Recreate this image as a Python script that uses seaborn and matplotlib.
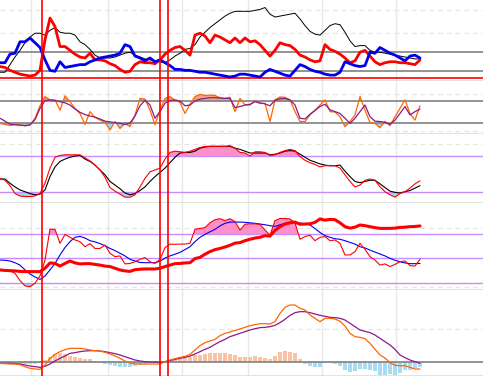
import numpy as np
import matplotlib
matplotlib.use("Agg")
import matplotlib.pyplot as plt
import seaborn as sns

sns.set_style("white")

# one sample every 5 px of the original chart
days = np.arange(85)

# panel 1: directional movement (ADX, +DI, -DI)
adx = [19, 19, 27, 35, 42, 50, 56, 60, 60, 58, 63, 66, 61, 60, 60, 58, 51, 48, 43, 37,
       34, 34, 34, 35, 37, 39, 40, 37, 35, 33, 32, 31, 30, 29, 32, 36, 39, 43, 44, 48,
       56, 61, 66, 70, 74, 78, 81, 83, 83, 83, 83, 84, 85, 87, 80, 77, 78, 79, 80, 81,
       75, 68, 62, 59, 58, 63, 68, 70, 69, 61, 52, 46, 47, 47, 42, 40, 40, 39, 38, 37,
       36, 35, 34, 33, 33]
plus_di = [29, 29, 38, 39, 51, 51, 55, 50, 45, 32, 21, 20, 30, 24, 25, 26, 27, 27, 30, 32,
           34, 35, 36, 37, 39, 48, 46, 36, 34, 31, 34, 30, 32, 29, 26, 22, 22, 21, 21, 20,
           19, 19, 18, 17, 16, 15, 14, 15, 17, 17, 16, 15, 14, 19, 22, 20, 18, 16, 15, 21,
           27, 25, 22, 20, 19, 17, 16, 16, 19, 30, 28, 26, 25, 26, 40, 39, 45, 42, 39, 37,
           34, 31, 36, 37, 34]
minus_di = [25, 24, 21, 19, 17, 16, 15, 16, 21, 53, 76, 67, 46, 46, 42, 38, 35, 34, 39, 32,
            32, 31, 28, 26, 22, 19, 20, 27, 30, 29, 29, 28, 32, 38, 42, 45, 46, 42, 37, 58,
            60, 57, 50, 58, 56, 53, 50, 55, 50, 55, 51, 52, 48, 42, 36, 42, 50, 48, 47, 43,
            37, 35, 32, 30, 31, 48, 43, 41, 38, 34, 29, 31, 40, 42, 36, 30, 27, 29, 30, 30,
            29, 29, 28, 27, 32]

# panel 2: fast / slow oscillator (0-100)
osc_fast = [20, 17, 14, 17, 16, 13, 15, 34, 68, 93, 84, 84, 56, 95, 79, 61, 47, 17, 52, 36,
            29, 23, 2, 25, 6, 20, 11, 43, 88, 86, 56, 16, 56, 88, 93, 83, 77, 47, 72, 93,
            99, 96, 97, 96, 90, 88, 91, 52, 88, 70, 70, 81, 74, 75, 25, 84, 92, 91, 84, 52,
            25, 25, 43, 56, 70, 84, 52, 51, 38, 11, 25, 43, 93, 56, 22, 20, 8, 25, 14, 38,
            61, 84, 47, 29, 68]
osc_slow = [34, 26, 18, 16, 15, 14, 16, 30, 61, 82, 84, 82, 79, 76, 70, 59, 50, 44, 40, 37,
            32, 26, 24, 22, 20, 17, 21, 40, 68, 83, 70, 34, 52, 75, 82, 84, 81, 68, 70, 81,
            86, 88, 90, 90, 89, 88, 88, 63, 66, 70, 72, 79, 76, 73, 68, 83, 87, 88, 84, 70,
            34, 32, 45, 55, 66, 72, 57, 52, 47, 34, 20, 34, 52, 70, 38, 26, 25, 23, 17, 29,
            47, 66, 43, 52, 59]

# panel 3: stochastic %K / %D
stoch_k = [43, 40, 31, 18, 14, 13, 13, 14, 18, 35, 60, 78, 81, 82, 82, 82, 82, 77, 72, 65,
           57, 45, 28, 22, 17, 12, 12, 16, 29, 43, 54, 57, 60, 75, 86, 88, 87, 86, 88, 91,
           94, 96, 96, 96, 96, 96, 97, 93, 86, 85, 80, 87, 87, 86, 81, 82, 86, 89, 91, 89,
           79, 73, 69, 66, 62, 64, 64, 64, 60, 49, 38, 29, 32, 40, 42, 40, 29, 21, 16, 12,
           18, 21, 27, 34, 39]
stoch_d = [42, 42, 35, 29, 24, 21, 18, 16, 17, 24, 46, 62, 71, 75, 78, 80, 81, 75, 71, 65,
           57, 49, 38, 32, 26, 19, 16, 18, 23, 29, 38, 46, 53, 60, 69, 78, 85, 86, 86, 88,
           93, 95, 96, 96, 96, 96, 96, 93, 91, 88, 85, 85, 85, 85, 82, 83, 85, 88, 89, 88,
           83, 78, 73, 70, 67, 65, 64, 64, 65, 55, 46, 38, 36, 38, 40, 40, 34, 28, 22, 20,
           19, 21, 23, 27, 31]

# panel 4: CCI, its average and a slow trend line
cci = [-48, -50, -52, -62, -92, -114, -117, -103, -73, -7, 121, 120, 62, 99, 87, 76, 69, 48, 61, 41,
       41, 55, 21, 7, 10, -23, -21, -14, -4, 3, -14, -21, -4, 44, 59, 58, 59, 59, 62, 120,
       124, 127, 147, 160, 164, 156, 164, 152, 117, 141, 143, 143, 141, 117, 96, 156, 165, 165, 163, 147,
       79, 90, 96, 73, 87, 90, 73, 76, 62, 14, 14, 28, 62, 37, 7, -7, -28, -23, -34, -25,
       -14, -11, -30, -32, -4]
cci_avg = [-7, -8, -11, -18, -28, -48, -65, -77, -87, -73, -48, -21, 14, 45, 69, 87, 91, 84, 73, 68,
           61, 52, 41, 32, 21, 10, -4, -11, -17, -18, -18, -18, -12, 1, 10, 17, 25, 36, 48, 69,
           87, 99, 110, 120, 134, 145, 150, 150, 150, 149, 147, 145, 142, 139, 135, 132, 139, 145, 150, 147,
           146, 143, 138, 123, 107, 94, 87, 81, 79, 73, 66, 59, 48, 43, 34, 26, 18, 10, 0, -8,
           -14, -19, -22, -22, -21]
cci_trend = [-48, -50, -51, -52, -54, -55, -55, -55, -55, -41, -19, -21, -32, -21, -11, -19, -23, -22, -22, -25,
             -28, -32, -34, -41, -48, -52, -54, -47, -45, -44, -44, -44, -41, -34, -28, -22, -21, -19, -18, -1,
             4, 17, 28, 36, 41, 47, 54, 63, 65, 73, 79, 84, 87, 94, 92, 116, 131, 142, 147, 150,
             141, 142, 143, 149, 163, 158, 161, 160, 147, 131, 125, 129, 138, 135, 131, 127, 124, 124, 124, 125,
             128, 129, 131, 132, 134]

# panel 5: MACD
macd = [-0.03, -0.04, -0.05, -0.05, -0.07, -0.13, -0.18, -0.20, -0.21, -0.08,
        0.12, 0.24, 0.32, 0.38, 0.42, 0.42, 0.42, 0.40, 0.37, 0.35,
        0.34, 0.30, 0.25, 0.19, 0.12, 0.04, -0.02, -0.05, -0.05, -0.05,
        -0.05, -0.05, -0.05, 0.02, 0.07, 0.11, 0.15, 0.18, 0.24, 0.37,
        0.50, 0.59, 0.64, 0.69, 0.80, 0.87, 0.91, 0.96, 1.00, 1.05,
        1.10, 1.13, 1.16, 1.16, 1.15, 1.22, 1.47, 1.65, 1.72, 1.72,
        1.62, 1.57, 1.42, 1.32, 1.22, 1.32, 1.32, 1.30, 1.23, 1.09,
        0.87, 0.77, 0.75, 0.71, 0.57, 0.39, 0.22, 0.13, -0.01, -0.09,
        -0.10, -0.10, -0.15, -0.20, -0.20]
macd_signal = [-0.03, -0.03, -0.03, -0.04, -0.05, -0.08, -0.11, -0.13, -0.15, -0.12,
               -0.05, 0.04, 0.12, 0.19, 0.27, 0.29, 0.32, 0.34, 0.35, 0.35,
               0.34, 0.32, 0.29, 0.26, 0.22, 0.17, 0.12, 0.07, 0.04, 0.02,
               0.01, 0.01, 0.00, 0.02, 0.05, 0.09, 0.12, 0.15, 0.19, 0.25,
               0.32, 0.39, 0.45, 0.54, 0.62, 0.69, 0.77, 0.82, 0.87, 0.92,
               0.97, 1.01, 1.04, 1.05, 1.07, 1.11, 1.19, 1.29, 1.41, 1.49,
               1.52, 1.52, 1.49, 1.45, 1.41, 1.38, 1.35, 1.34, 1.32, 1.27,
               1.17, 1.07, 0.97, 0.93, 0.89, 0.82, 0.72, 0.62, 0.52, 0.39,
               0.22, 0.14, 0.07, 0.02, -0.03]
macd_hist = [-0.03, -0.04, -0.05, -0.05, -0.06, -0.05, -0.05, -0.05, -0.03, 0.07,
             0.17, 0.24, 0.27, 0.24, 0.20, 0.17, 0.14, 0.10, 0.10, 0.04,
             -0.02, -0.05, -0.09, -0.11, -0.15, -0.13, -0.13, -0.10, -0.08, -0.05,
             -0.03, -0.02, 0.00, 0.04, 0.07, 0.11, 0.13, 0.15, 0.17, 0.21,
             0.23, 0.24, 0.27, 0.28, 0.28, 0.27, 0.26, 0.21, 0.17, 0.17,
             0.17, 0.19, 0.15, 0.12, 0.09, 0.20, 0.32, 0.34, 0.32, 0.27,
             0.10, -0.05, -0.10, -0.15, -0.15, -0.03, -0.03, -0.05, -0.11, -0.23,
             -0.28, -0.25, -0.21, -0.21, -0.23, -0.25, -0.38, -0.38, -0.35, -0.38,
             -0.31, -0.23, -0.23, -0.18, -0.13]

# month gridlines and marked signal days (in sample units)
month_lines = [6.2, 21.6, 36.4, 49.6, 64.4, 79.2]
signal_days = [8.4, 32.0, 33.6]

RED = "#ff0000"
PURPLE_LINE = "#c78cff"
GRAY_LINE = "#808080"
PINK = "#ff8fc8"
LIGHT_BLUE = "#9fd6f0"
SALMON = "#f5a47e"
BAR_SALMON = "#f9c2a4"
BAR_BLUE = "#a8dcf2"

W, H = 483, 376
fig = plt.figure(figsize=(W / 100, H / 100), dpi=100)

# panel pixel bounds (top, bottom)
bounds = [(0, 81), (81, 134), (134, 203), (203, 290), (290, 376)]
axes = []
for top, bot in bounds:
    ax = fig.add_axes([0, 1 - bot / H, 1, (bot - top) / H])
    ax.set_xlim(0, W / 5)
    ax.set_xticks([])
    ax.set_yticks([])
    for s in ["top", "left", "right"]:
        ax.spines[s].set_visible(False)
    ax.spines["bottom"].set_color("#dddddd")
    ax.spines["bottom"].set_linewidth(1.2)
    for m in month_lines:
        ax.axvline(m, color="#e8e8e8", lw=1.0, zorder=0)
    axes.append(ax)

dash = dict(color="#e6e6e6", lw=0.9, ls=(0, (4, 3)), zorder=0)

# ---- panel 1
ax = axes[0]
ax.set_ylim(9.8, 94.9)
for g in [60, 84]:
    ax.axhline(g, **dash)
ax.axhline(20, color=GRAY_LINE, lw=1.2)
ax.axhline(40, color=GRAY_LINE, lw=1.2)
ax.axhline(12.6, color=RED, lw=1.2)
sns.lineplot(x=days, y=adx, ax=ax, color="black", lw=0.7)
sns.lineplot(x=days, y=minus_di, ax=ax, color=RED, lw=2.0)
sns.lineplot(x=days, y=plus_di, ax=ax, color="#0000ee", lw=2.0)

# ---- panel 2
ax = axes[1]
ax.set_ylim(-9, 135.5)
for g in [0, 100]:
    ax.axhline(g, **dash)
ax.axhline(20, color=GRAY_LINE, lw=1.2)
ax.axhline(80, color=GRAY_LINE, lw=1.2)
f = np.array(osc_fast)
ax.fill_between(days, f, 80, where=f > 80, interpolate=True, color=SALMON, lw=0)
ax.fill_between(days, f, 20, where=f < 20, interpolate=True, color=LIGHT_BLUE, lw=0)
sns.lineplot(x=days, y=osc_fast, ax=ax, color="#ff6600", lw=0.9)
sns.lineplot(x=days, y=osc_slow, ax=ax, color="#8b1a8b", lw=0.9)

# ---- panel 3
ax = axes[2]
ax.set_ylim(2.4, 116.4)
ax.axhline(100, **dash)
ax.axhline(20, color=PURPLE_LINE, lw=1.0)
ax.axhline(80, color=PURPLE_LINE, lw=1.0)
k = np.array(stoch_k)
ax.fill_between(days, k, 80, where=k > 80, interpolate=True, color=PINK, lw=0)
ax.fill_between(days, k, 20, where=k < 20, interpolate=True, color=LIGHT_BLUE, lw=0)
sns.lineplot(x=days, y=stoch_d, ax=ax, color="black", lw=0.8)
sns.lineplot(x=days, y=stoch_k, ax=ax, color=RED, lw=0.8)

# ---- panel 4
ax = axes[3]
ax.set_ylim(-131, 229)
for g in [-120, 124]:
    ax.axhline(g, **dash)
for g in [-100, 0, 100]:
    ax.axhline(g, color=PURPLE_LINE, lw=1.0)
c = np.array(cci)
ax.fill_between(days, c, 100, where=c > 100, interpolate=True, color=PINK, lw=0)
ax.fill_between(days, c, -100, where=c < -100, interpolate=True, color=LIGHT_BLUE, lw=0)
sns.lineplot(x=days, y=cci_avg, ax=ax, color="#0000ee", lw=0.8)
sns.lineplot(x=days, y=cci, ax=ax, color=RED, lw=0.8)
sns.lineplot(x=days, y=cci_trend, ax=ax, color=RED, lw=2.2)

# ---- panel 5
ax = axes[4]
ax.set_ylim(-0.41, 2.17)
ax.axhline(1.0, **dash)
hist = np.array(macd_hist)
bar_colors = [BAR_SALMON if v > 0 else BAR_BLUE for v in hist]
ax.bar(days, hist, width=0.75, color=bar_colors, lw=0, zorder=1)
ax.axhline(0, color=GRAY_LINE, lw=1.2, zorder=2)
sns.lineplot(x=days, y=macd_signal, ax=ax, color="#8b1a8b", lw=0.9, zorder=3)
sns.lineplot(x=days, y=macd, ax=ax, color="#ff6600", lw=0.9, zorder=3)

for ax in axes:
    ax.set_xlabel("")
    ax.set_ylabel("")
    for d in signal_days:
        ax.axvline(d, color=RED, lw=1.2, zorder=5)

fig.savefig("out.png", dpi=100)
